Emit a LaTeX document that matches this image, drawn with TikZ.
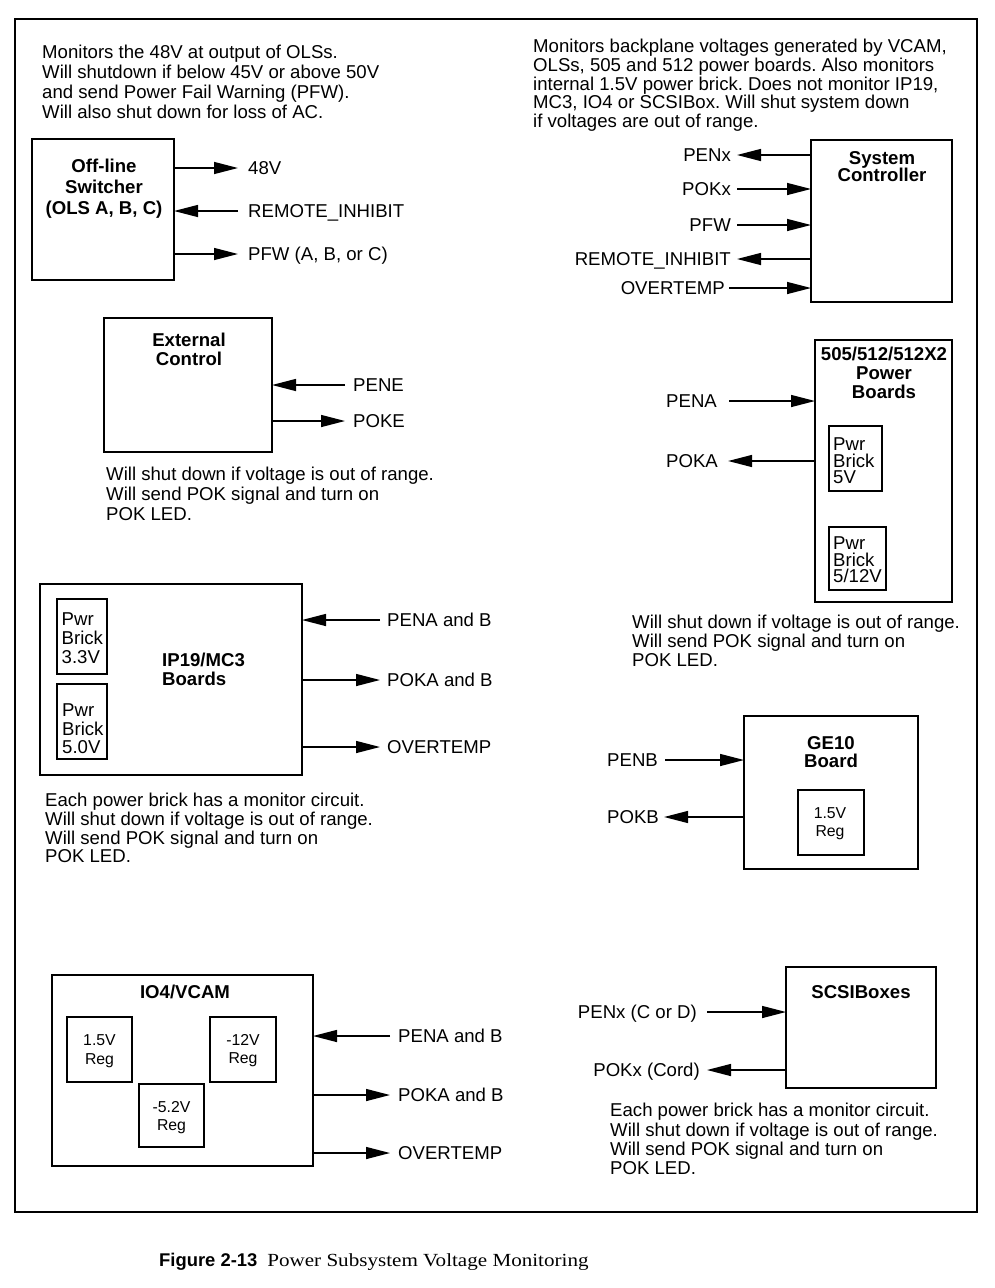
\documentclass[tikz,border=0pt]{standalone}
\usepackage{fontspec}
\usepackage{graphicx}
\setmainfont{Liberation Sans}
\newfontfamily\capserif{Liberation Serif}
\usetikzlibrary{arrows.meta}
\frenchspacing
\newcommand\myfs[1]{\fontsize{18.6}{#1}\selectfont\lineskiplimit=-30pt\lineskip=0pt}
\newcommand\regfs[1]{\fontsize{15.8}{#1}\selectfont\lineskiplimit=-30pt\lineskip=0pt}
\newcommand\st{\rule{0pt}{14pt}}
\newcommand\sst{\rule{0pt}{12pt}}
\tikzset{
  box/.style={draw, line width=2.7pt, inner sep=0pt, outer sep=0pt, anchor=north west},
  ibox/.style={draw, line width=1.5pt, inner sep=0pt, outer sep=0pt, anchor=north west},
  blk/.style={inner sep=0pt, anchor=north west, align=left},
  ttl/.style={inner sep=0pt, anchor=north, align=center},
  lbl/.style={inner sep=0pt, font=\myfs{19}, text height=13.3pt, text depth=0pt},
  sig/.style={line width=1.4pt, -{Triangle[length=24pt,width=12pt]}}
}
\begin{document}
\begin{tikzpicture}[x=1pt,y=-1pt]
\useasboundingbox (0,0) rectangle (994,1288);
\draw[line width=2.2pt] (15,19) rectangle (977,1212);

% ---------- Off-line switcher ----------
\node[blk, font=\myfs{20}] (t1) at (42,44.3) {\st Monitors the 48V at output of OLSs.\\Will shutdown if below 45V or above 50V\\and send Power Fail Warning (PFW).\\Will also shut down for loss of AC.};
\node[box, minimum width=142, minimum height=141] (ols) at (32,139) {};
\node[ttl, font=\bfseries\myfs{21}] (olst) at (104,158.6) {\st Off-line\\Switcher\\(OLS A, B, C)};
\node[lbl, anchor=west] (l48) at (248,168) {48V};
\node[lbl, anchor=west] (lri1) at (248,211) {REMOTE\_INHIBIT};
\node[lbl, anchor=west] (lpfw1) at (248,254) {PFW (A, B, or C)};
\draw[sig] (ols.east |- l48) -- ([xshift=-10pt]l48.west);
\draw[sig] ([xshift=-10pt]lri1.west) -- (ols.east |- lri1);
\draw[sig] (ols.east |- lpfw1) -- ([xshift=-10pt]lpfw1.west);

% ---------- System controller ----------
\node[blk, font=\myfs{18.8}] (t2) at (533,38.3) {\st Monitors backplane voltages generated by VCAM,\\OLSs, 505 and 512 power boards. Also monitors\\internal 1.5V power brick. Does not monitor IP19,\\MC3, IO4 or SCSIBox. Will shut system down\\if voltages are out of range.};
\node[box, minimum width=141, minimum height=162] (sc) at (811,140) {};
\node[ttl, font=\bfseries\myfs{17.3}] (sct) at (882,150.3) {\st System\\Controller};
\node[lbl, anchor=east] (lpenx) at (731,155) {PENx};
\node[lbl, anchor=east] (lpokx) at (731,189) {POKx};
\node[lbl, anchor=east] (lpfw) at (731,225) {PFW};
\node[lbl, anchor=east] (lri) at (731,259) {REMOTE\_INHIBIT};
\node[lbl, anchor=east] (lot) at (725,288) {OVERTEMP};
\draw[sig] (sc.west |- lpenx) -- ([xshift=6pt]lpenx.east);
\draw[sig] ([xshift=6pt]lpokx.east) -- (sc.west |- lpokx);
\draw[sig] ([xshift=6pt]lpfw.east) -- (sc.west |- lpfw);
\draw[sig] (sc.west |- lri) -- ([xshift=6pt]lri.east);
\draw[sig] ([xshift=4pt]lot.east) -- (sc.west |- lot);

% ---------- External control ----------
\node[box, minimum width=168, minimum height=134] (ext) at (104,318) {};
\node[ttl, font=\bfseries\myfs{18.3}] (extt) at (189,332.6) {\st External\\Control};
\node[lbl, anchor=west] (lpene) at (353,385) {PENE};
\node[lbl, anchor=west] (lpoke) at (353,421) {POKE};
\draw[sig] ([xshift=-8pt]lpene.west) -- (ext.east |- lpene);
\draw[sig] (ext.east |- lpoke) -- ([xshift=-8pt]lpoke.west);
\node[blk, font=\myfs{19.6}] (t3) at (106,466.6) {\st Will shut down if voltage is out of range.\\Will send POK signal and turn on\\POK LED.};

% ---------- 505/512 power boards ----------
\node[box, minimum width=137, minimum height=262] (pb) at (815,340) {};
\node[ttl, font=\bfseries\myfs{18.8}] (pbt) at (884,346.6) {\st 505/512/512X2\\Power\\Boards};
\node[lbl, anchor=west] (lpena) at (666,401) {PENA};
\node[lbl, anchor=west] (lpoka) at (666,461) {POKA};
\draw[sig] ([xshift=12pt]lpena.east) -- (pb.west |- lpena);
\draw[sig] (pb.west |- lpoka) -- ([xshift=10pt]lpoka.east);
\node[ibox, minimum width=53, minimum height=65] (b5) at (829,426) {};
\node[blk, font=\myfs{16.5}] (b5t) at (833,436.6) {\st Pwr\\Brick\\5V};
\node[ibox, minimum width=57, minimum height=63] (b512) at (829,527) {};
\node[blk, font=\myfs{16.5}] (b512t) at (833,535.6) {\st Pwr\\Brick\\5/12V};
\node[blk, font=\myfs{19.2}] (t4) at (632,614.3) {\st Will shut down if voltage is out of range.\\Will send POK signal and turn on\\POK LED.};

% ---------- IP19/MC3 ----------
\node[box, minimum width=262, minimum height=191] (ip) at (40,584) {};
\node[blk, font=\bfseries\myfs{19}] (ipt) at (162,652.6) {\st IP19/MC3\\Boards};
\node[ibox, minimum width=50, minimum height=75] (b33) at (57,599) {};
\node[blk, font=\myfs{19}] (b33t) at (61.5,611.6) {\st Pwr\\Brick\\3.3V};
\node[ibox, minimum width=50, minimum height=75] (b50) at (57,684) {};
\node[blk, font=\myfs{18.5}] (b50t) at (62,702.6) {\st Pwr\\Brick\\5.0V};
\node[lbl, anchor=west] (lpenab) at (387,620) {PENA and B};
\node[lbl, anchor=west] (lpokab) at (387,680) {POKA and B};
\node[lbl, anchor=west] (lot2) at (387,747) {OVERTEMP};
\draw[sig] ([xshift=-7pt]lpenab.west) -- (ip.east |- lpenab);
\draw[sig] (ip.east |- lpokab) -- ([xshift=-7pt]lpokab.west);
\draw[sig] (ip.east |- lot2) -- ([xshift=-7pt]lot2.west);
\node[blk, font=\myfs{18.7}] (t5) at (45,792.6) {\st Each power brick has a monitor circuit.\\Will shut down if voltage is out of range.\\Will send POK signal and turn on\\POK LED.};

% ---------- GE10 ----------
\node[box, minimum width=174, minimum height=153] (ge) at (744,716) {};
\node[ttl, font=\bfseries\myfs{17.3}] (get) at (831,735.6) {\st GE10\\Board};
\node[ibox, minimum width=66, minimum height=65] (ger) at (798,790) {};
\node[ttl, font=\regfs{18.4}] (gert) at (830,806) {\sst 1.5V\\Reg};
\node[lbl, anchor=west] (lpenb) at (607,760) {PENB};
\node[lbl, anchor=west] (lpokb) at (607,817) {POKB};
\draw[sig] ([xshift=7pt]lpenb.east) -- (ge.west |- lpenb);
\draw[sig] (ge.west |- lpokb) -- ([xshift=5pt]lpokb.east);

% ---------- IO4/VCAM ----------
\node[box, minimum width=261, minimum height=191] (io) at (52,975) {};
\node[lbl, font=\bfseries\myfs{19}] (iot) at (185,992) {IO4/VCAM};
\node[ibox, minimum width=65, minimum height=65] (r15) at (67,1017) {};
\node[ttl, font=\regfs{18.7}] (r15t) at (99.5,1033.7) {\sst 1.5V\\Reg};
\node[ibox, minimum width=66, minimum height=65] (r12) at (210,1017) {};
\node[ttl, font=\regfs{18}] (r12t) at (243,1033.7) {\sst -12V\\Reg};
\node[ibox, minimum width=65, minimum height=63] (r52) at (139,1084) {};
\node[ttl, font=\regfs{18}] (r52t) at (171.5,1100.7) {\sst -5.2V\\Reg};
\node[lbl, anchor=west] (lpenab2) at (398,1036) {PENA and B};
\node[lbl, anchor=west] (lpokab2) at (398,1095) {POKA and B};
\node[lbl, anchor=west] (lot3) at (398,1153) {OVERTEMP};
\draw[sig] ([xshift=-8pt]lpenab2.west) -- (io.east |- lpenab2);
\draw[sig] (io.east |- lpokab2) -- ([xshift=-8pt]lpokab2.west);
\draw[sig] (io.east |- lot3) -- ([xshift=-8pt]lot3.west);

% ---------- SCSIBoxes ----------
\node[box, minimum width=150, minimum height=121] (scsi) at (786,967) {};
\node[lbl, font=\bfseries\myfs{19}] (scsit) at (861,992) {SCSIBoxes};
\node[lbl, anchor=east] (lpenxc) at (697,1012) {PENx (C or D)};
\node[lbl, anchor=east] (lpokxc) at (700,1070) {POKx (Cord)};
\draw[sig] ([xshift=10pt]lpenxc.east) -- (scsi.west |- lpenxc);
\draw[sig] (scsi.west |- lpokxc) -- ([xshift=7pt]lpokxc.east);
\node[blk, font=\myfs{19.2}] (t6) at (610,1102.7) {\st Each power brick has a monitor circuit.\\Will shut down if voltage is out of range.\\Will send POK signal and turn on\\POK LED.};

% ---------- caption ----------
\node[inner sep=0pt, anchor=base west] (cap) at (159,1266) {{\bfseries\fontsize{18.4}{20}\selectfont Figure 2-13}\hspace{10pt}\scalebox{1.14}[1]{\capserif\fontsize{18.5}{20}\selectfont Power Subsystem Voltage Monitoring}};
\end{tikzpicture}
\end{document}
